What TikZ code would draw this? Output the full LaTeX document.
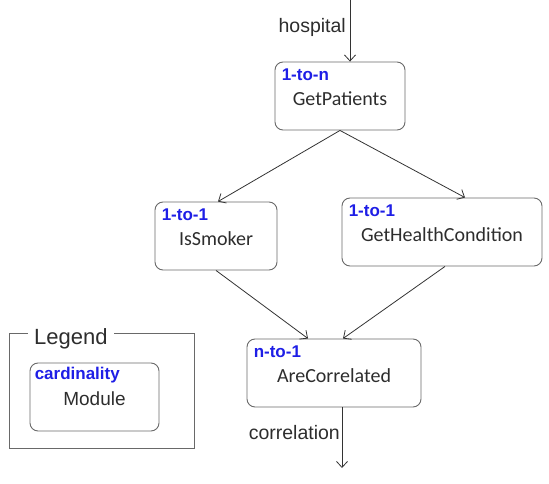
\documentclass[tikz,border=0pt]{standalone}
\usepackage{fontspec}
\setmainfont{Liberation Sans}
\newfontfamily\calibri{Carlito}
\usetikzlibrary{positioning,arrows.meta}
\definecolor{cardblue}{RGB}{30,30,230}
\definecolor{boxgray}{RGB}{105,105,105}
\definecolor{textgray}{RGB}{45,45,45}

\begin{document}
\begin{tikzpicture}[x=1pt, y=-1pt,
  module/.style={draw=boxgray, rounded corners=8pt, line width=0.9pt, minimum height=68pt, inner sep=0pt},
  card/.style={text=cardblue, font=\fontsize{17}{17}\selectfont\bfseries, inner sep=0pt, anchor=west},
  modname/.style={text=textgray, font=\fontsize{20}{20}\selectfont\calibri, inner sep=0pt},
  flow/.style={-{Straight Barb[length=6pt, width=11pt]}, line width=0.8pt, draw=black!80},
  portlabel/.style={text=textgray, font=\fontsize{19.5}{20}\selectfont, inner sep=0pt, anchor=east}]
  \useasboundingbox (0,0) rectangle (549,484);
  % modules: name / centre / width / cardinality / label
  \foreach \name/\x/\y/\w/\c/\t in {patients/340/96/130pt/1-to-n/GetPatients,
      smoker/216/236/122pt/1-to-1/IsSmoker,
      health/442/232/200pt/1-to-1/GetHealthCondition,
      correlated/334/373/174pt/n-to-1/AreCorrelated}
  {
    \node[module, minimum width=\w] (\name) at (\x,\y) {};
    \node[card] (\name-card) at ([xshift=7pt, yshift=-13pt]\name.north west) {\c};
    \node[modname] (\name-label) at ([yshift=-3pt]\name.center) {\t};
  }
  % data flow
  \coordinate (in) at (350,0);
  \coordinate (out) at (342,468);
  \draw[flow] (in) -- ([xshift=10pt]patients.north);
  \node[portlabel] (hospital) at (346,27) {hospital};
  \draw[flow] (patients.south) -- ([xshift=2pt]smoker.north);
  \draw[flow] (patients.south) -- ([xshift=23pt]health.north);
  \draw[flow] (smoker.south) -- ([xshift=-26pt]correlated.north);
  \draw[flow] ([xshift=3pt]health.south) -- ([xshift=9pt]correlated.north);
  \draw[flow] ([xshift=8pt]correlated.south) -- (out);
  \node[portlabel] (correlation) at (340,433) {correlation};
  % legend
  \draw[draw=boxgray, line width=0.9pt] (9,333) rectangle (194,448);
  \node[fill=white, inner xsep=6pt, inner ysep=1pt, anchor=west, text=textgray,
        font=\fontsize{22}{22}\selectfont] (legend) at (28,339) {Legend};
  \node[module, minimum width=129pt] (key) at (94.5,397) {};
  \node[card] (key-card) at ([xshift=5pt, yshift=-13pt]key.north west) {cardinality};
  \node[text=textgray, font=\fontsize{19}{19}\selectfont, inner sep=0pt] (key-label)
    at ([yshift=-2pt]key.center) {Module};
\end{tikzpicture}
\end{document}
